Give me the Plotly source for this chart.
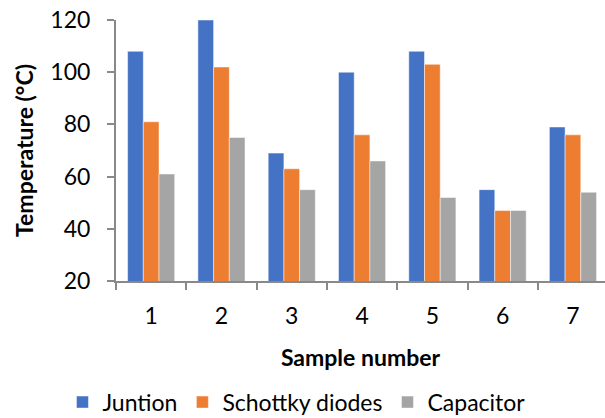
import plotly.graph_objects as go

categories = ["1", "2", "3", "4", "5", "6", "7"]
juntion = [108, 120, 69, 100, 108, 55, 79]
schottky = [81, 102, 63, 76, 103, 47, 76]
capacitor = [61, 75, 55, 66, 52, 47, 54]
series_names = ["Juntion", "Schottky diodes", "Capacitor"]
colors = ["#4472C4", "#ED7D31", "#A5A5A5"]
y_ticks = [20, 40, 60, 80, 100, 120]

FONT = "Lato, Calibri, sans-serif"
FS = 23

fig = go.Figure()
for name, vals, col in zip(series_names, [juntion, schottky, capacitor], colors):
    fig.add_trace(go.Bar(
        x=categories, y=vals, name=name,
        marker=dict(color=col, line=dict(color="rgba(255,255,255,0.6)", width=0.8)),
    ))

fig.update_layout(
    width=605, height=418,
    margin=dict(l=116, r=0, t=20, b=137),
    paper_bgcolor="white", plot_bgcolor="white",
    barmode="group", bargap=0.33, bargroupgap=0,
    font=dict(family=FONT, size=FS, color="#000000"),
    showlegend=True,
    legend=dict(
        orientation="h", xref="container", yref="container",
        x=0.49, xanchor="center", y=0.038, yanchor="middle",
        font=dict(size=FS, family=FONT), itemwidth=30, traceorder="normal",
    ),
)

fig.update_xaxes(
    type="category", range=[-0.5, 6.456],
    showline=True, linecolor="#898989", linewidth=2,
    ticks="outside", tickson="boundaries", ticklen=7, tickwidth=1.5, tickcolor="#898989",
    ticklabelstandoff=13,
    showgrid=False, zeroline=False,
    title=dict(text="<b>Sample number</b>", font=dict(size=FS, family=FONT), standoff=22),
)
fig.update_yaxes(
    range=[20, 120], tickvals=y_ticks,
    showline=True, linecolor="#898989", linewidth=2,
    ticks="outside", ticklen=7, tickwidth=1.5, tickcolor="#898989",
    ticklabelstandoff=12,
    showgrid=False, zeroline=False,
    title=dict(text="<b>Temperature (°C)</b>", font=dict(size=FS, family=FONT), standoff=10),
)

fig.write_html("out.html")
